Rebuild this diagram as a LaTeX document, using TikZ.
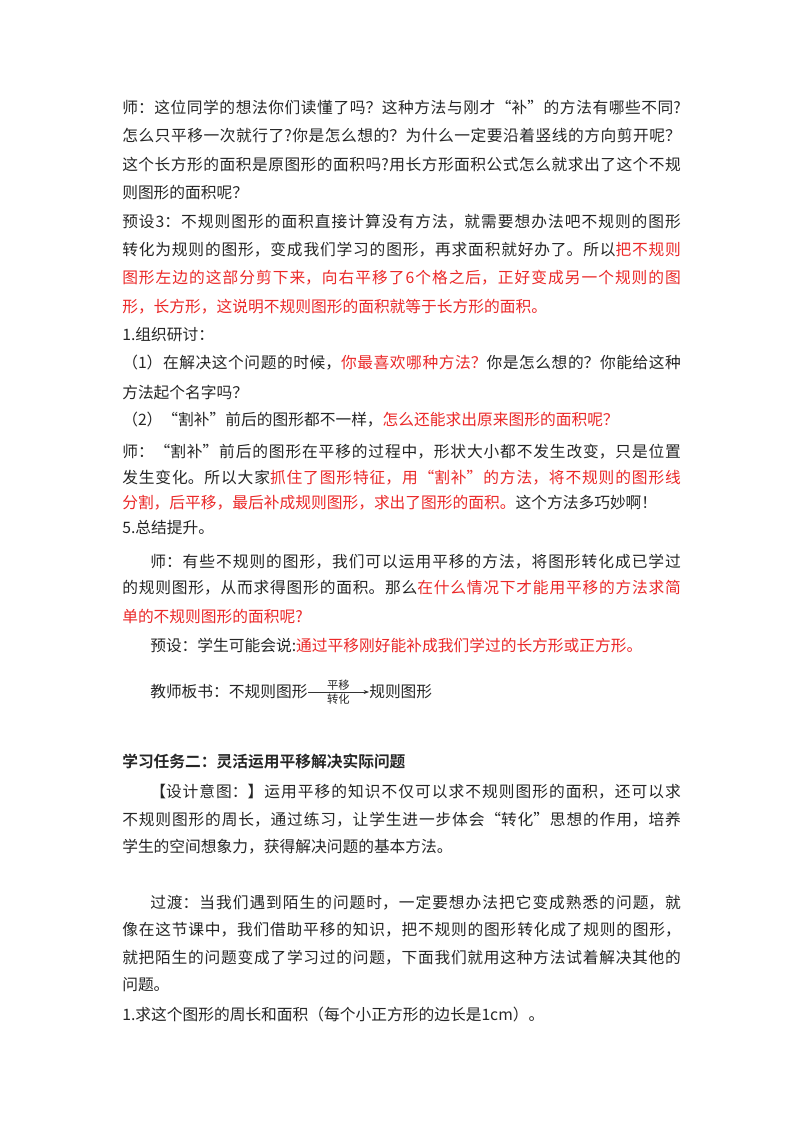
\documentclass[tikz,border=0pt]{standalone}
\usepackage{fontspec}
\usetikzlibrary{arrows.meta}
\setmainfont{Noto Sans CJK SC}
\newfontfamily\hb{Noto Sans CJK SC Bold}
\definecolor{rd}{RGB}{235,40,40}
\newcommand{\R}[1]{{\color{rd}#1}}
\newcommand{\jl}[2]{\parbox{#1}{\XeTeXlinebreaklocale "zh"\XeTeXlinebreakskip=0pt plus 3pt minus 0.6pt\parfillskip=0pt\noindent #2}}
\tikzset{
  ln/.style={anchor=west,inner sep=0pt,font=\fontsize{11.8}{14}\selectfont,text=black!85},
  sm/.style={inner sep=1pt,font=\fontsize{8.5}{10}\selectfont,text=black!85}
}
\begin{document}
\begin{tikzpicture}[x=0.75pt,y=-0.75pt]
\useasboundingbox[fill=white] (0,0) rectangle (800,1132);
\node[ln] (l1) at (122,107) {\jl{419pt}{师：这位同学的想法你们读懂了吗？这种方法与刚才“补”的方法有哪些不同?}};
\node[ln] (l2) at (122,135) {\jl{419pt}{怎么只平移一次就行了?你是怎么想的？为什么一定要沿着竖线的方向剪开呢？}};
\node[ln] (l3) at (122,165) {\jl{419pt}{这个长方形的面积是原图形的面积吗?用长方形面积公式怎么就求出了这个不规}};
\node[ln] (l4) at (122,193) {则图形的面积呢？};
\node[ln] (l5) at (122,222) {\jl{419pt}{预设3：不规则图形的面积直接计算没有方法，就需要想办法吧不规则的图形}};
\node[ln] (l6) at (122,250) {\jl{419pt}{转化为规则的图形，变成我们学习的图形，再求面积就好办了。所以\R{把不规则}}};
\node[ln] (l7) at (122,278) {\jl{419pt}{\R{图形左边的这部分剪下来，向右平移了6个格之后，正好变成另一个规则的图}}};
\node[ln] (l8) at (122,307) {\R{形，长方形，这说明不规则图形的面积就等于长方形的面积。}};
\node[ln] (l9) at (122,335) {1.组织研讨：};
\node[ln] (l10) at (122,363) {\jl{419pt}{（1）在解决这个问题的时候，\R{你最喜欢哪种方法？}你是怎么想的？你能给这种}};
\node[ln] (l11) at (122,393) {方法起个名字吗？};
\node[ln] (l12) at (122,420) {（2）“割补”前后的图形都不一样，\R{怎么还能求出原来图形的面积呢？}};
\node[ln] (l13) at (122,452) {\jl{419pt}{师：“割补”前后的图形在平移的过程中，形状大小都不发生改变，只是位置}};
\node[ln] (l14) at (122,478) {\jl{419pt}{发生变化。所以大家\R{抓住了图形特征，用“割补”的方法，将不规则的图形线}}};
\node[ln] (l15) at (122,503) {\R{分割，后平移，最后补成规则图形，求出了图形的面积。}这个方法多巧妙啊！};
\node[ln] (l16) at (122,528) {5.总结提升。};
\node[ln] (l17) at (150,562) {\jl{398pt}{师：有些不规则的图形，我们可以运用平移的方法，将图形转化成已学过}};
\node[ln] (l18) at (122,588) {\jl{419pt}{的规则图形，从而求得图形的面积。那么\R{在什么情况下才能用平移的方法求简}}};
\node[ln] (l19) at (122,617) {\R{单的不规则图形的面积呢?}};
\node[ln] (l20) at (150,645) {预设：学生可能会说:\R{通过平移刚好能补成我们学过的长方形或正方形。}};
\node[ln] (b1) at (150,692) {教师板书：不规则图形};
\node[ln] (b2) at (369,692) {规则图形};
\draw[-{Stealth[length=4pt,width=3pt]},line width=0.5pt,black!80] (b1.east) -- node[sm,above]{平移} node[sm,below]{转化} (b2.west);
\node[ln,font=\hb\fontsize{11.8}{14}\selectfont] (h) at (122,762) {学习任务二：灵活运用平移解决实际问题};
\node[ln] (d1) at (150,792) {\jl{398pt}{【设计意图：】运用平移的知识不仅可以求不规则图形的面积，还可以求}};
\node[ln] (d2) at (122,820) {\jl{419pt}{不规则图形的周长，通过练习，让学生进一步体会“转化”思想的作用，培养}};
\node[ln] (d3) at (122,847) {学生的空间想象力，获得解决问题的基本方法。};
\node[ln] (g1) at (150,903) {\jl{398pt}{过渡：当我们遇到陌生的问题时，一定要想办法把它变成熟悉的问题，就}};
\node[ln] (g2) at (122,930) {\jl{419pt}{像在这节课中，我们借助平移的知识，把不规则的图形转化成了规则的图形，}};
\node[ln] (g3) at (122,958) {\jl{419pt}{就把陌生的问题变成了学习过的问题，下面我们就用这种方法试着解决其他的}};
\node[ln] (g4) at (122,985) {问题。};
\node[ln] (q1) at (122,1015) {1.求这个图形的周长和面积（每个小正方形的边长是1cm）。};
\end{tikzpicture}
\end{document}
